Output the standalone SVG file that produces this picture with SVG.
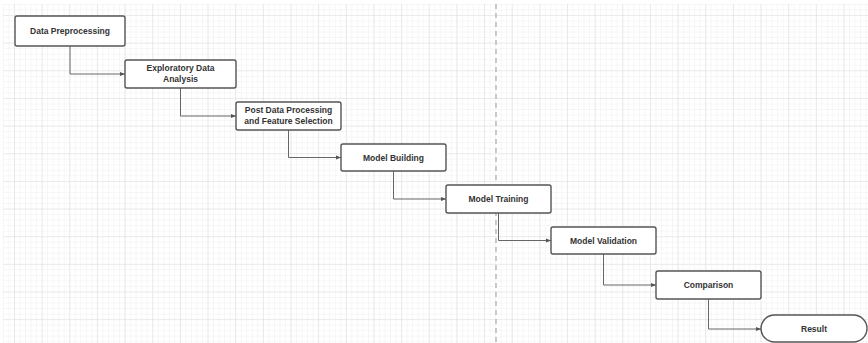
<svg xmlns="http://www.w3.org/2000/svg" width="868" height="343" viewBox="0 0 868 343">
  <defs>
    <pattern id="minor" patternUnits="userSpaceOnUse" x="2.94" y="3.94" width="5.53" height="5.53">
      <path d="M0,0 H5.53 M0,0 V5.53" fill="none" stroke="#eeeeee" stroke-width="1"/>
    </pattern>
    <pattern id="major" patternUnits="userSpaceOnUse" x="14" y="15" width="27.65" height="27.65">
      <path d="M0,0 H27.65 M0,0 V27.65" fill="none" stroke="#e0e0e0" stroke-width="1.2"/>
    </pattern>
    <marker id="arrow" viewBox="0 0 10 10" refX="10" refY="5" markerWidth="5" markerHeight="5" orient="auto" markerUnits="userSpaceOnUse">
      <path d="M0,1 L10,5 L0,9 Z" fill="#555"/>
    </marker>
    <style>
      .box { fill: #ffffff; stroke: #555555; stroke-width: 1.4; }
      .lbl { font-family: "Liberation Sans", Arial, sans-serif; font-size: 8.5px; font-weight: bold; fill: #333333; text-anchor: middle; dominant-baseline: central; }
      .conn { fill: none; stroke: #666666; stroke-width: 1; marker-end: url(#arrow); }
    </style>
  </defs>
  <rect x="0" y="0" width="868" height="343" fill="#ffffff"/>
  <rect x="3" y="4" width="865" height="339" fill="url(#minor)"/>
  <rect x="3" y="4" width="865" height="339" fill="url(#major)"/>
  <line x1="496" y1="4" x2="496" y2="343" stroke="#b0b0b0" stroke-width="1.3" stroke-dasharray="5,4"/>

  <g id="connectors">
    <path class="conn" d="M70,46 V74 H125"/>
    <path class="conn" d="M180.5,88 V116 H236"/>
    <path class="conn" d="M288.5,130 V157.5 H341"/>
    <path class="conn" d="M393.5,171 V199 H446"/>
    <path class="conn" d="M498.5,213 V240.5 H551"/>
    <path class="conn" d="M603.5,254 V285 H656"/>
    <path class="conn" d="M708.5,299 V329 H761"/>
  </g>

  <g id="data-preprocessing">
    <rect class="box" x="15" y="16" width="110" height="30" rx="2"/>
    <text class="lbl" x="70" y="31">Data Preprocessing</text>
  </g>
  <g id="exploratory-data-analysis">
    <rect class="box" x="125" y="60" width="111" height="28" rx="2"/>
    <text class="lbl" x="180.5" y="68">Exploratory Data</text>
    <text class="lbl" x="180.5" y="79">Analysis</text>
  </g>
  <g id="post-data-processing">
    <rect class="box" x="236" y="102" width="105" height="28" rx="2"/>
    <text class="lbl" x="288.5" y="110">Post Data Processing</text>
    <text class="lbl" x="288.5" y="121">and Feature Selection</text>
  </g>
  <g id="model-building">
    <rect class="box" x="341" y="144" width="105" height="27" rx="2"/>
    <text class="lbl" x="393.5" y="157.5">Model Building</text>
  </g>
  <g id="model-training">
    <rect class="box" x="446" y="185" width="105" height="28" rx="2"/>
    <text class="lbl" x="498.5" y="199">Model Training</text>
  </g>
  <g id="model-validation">
    <rect class="box" x="551" y="227" width="105" height="27" rx="2"/>
    <text class="lbl" x="603.5" y="240.5">Model Validation</text>
  </g>
  <g id="comparison">
    <rect class="box" x="656" y="271" width="105" height="28" rx="2"/>
    <text class="lbl" x="708.5" y="285">Comparison</text>
  </g>
  <g id="result">
    <rect class="box" x="761" y="315" width="106" height="27" rx="13.5"/>
    <text class="lbl" x="814" y="328.5">Result</text>
  </g>
</svg>
